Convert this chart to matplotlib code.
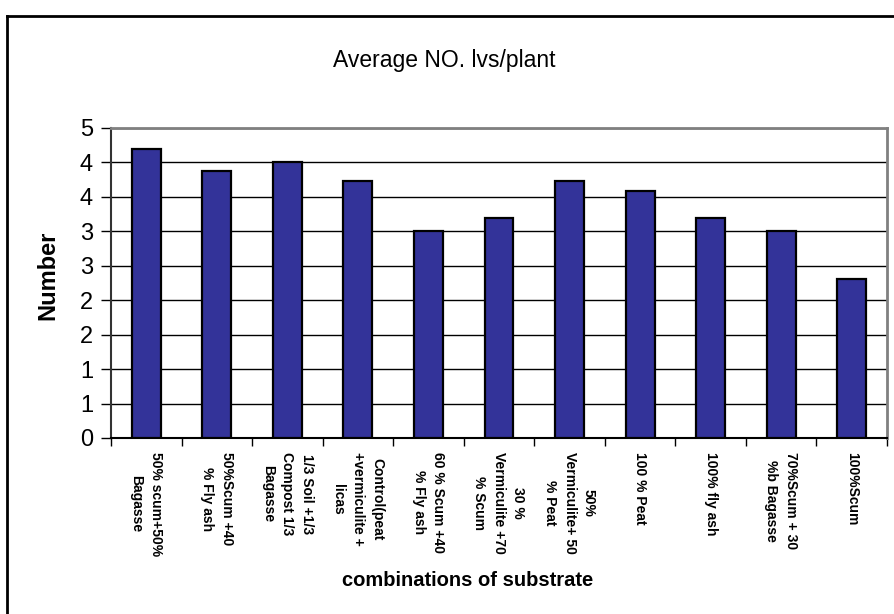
import matplotlib
matplotlib.use("Agg")
import matplotlib.pyplot as plt
from matplotlib.lines import Line2D
import numpy as np

plt.rcParams['font.family'] = ['Liberation Sans', 'DejaVu Sans']

# substrate combinations (x tick labels, written as in the chart)
categories = [
    "50% scum+50%\nBagasse",
    "50%Scum +40\n% Fly ash",
    "1/3 Soil +1/3\nCompost 1/3\nBagasse",
    "Control(peat\n+vermiculite +\nlicas",
    "60 % Scum +40\n% Fly ash",
    "30 %\nVermiculite +70\n% Scum",
    "50%\nVermiculite+ 50\n% Peat",
    "100 % Peat",
    "100% fly ash",
    "70%Scum + 30\n%b Bagasse",
    "100%Scum",
]
# average number of leaves per plant
avg_leaves = [4.2, 3.87, 4.0, 3.73, 3.0, 3.2, 3.73, 3.58, 3.2, 3.0, 2.31]

# y ticks every 0.5, shown with Excel's "0" number format
y_ticks = [0, 0.5, 1, 1.5, 2, 2.5, 3, 3.5, 4, 4.5]
y_tick_labels = ["0", "1", "1", "2", "2", "3", "3", "4", "4", "5"]

W, H = 895, 614
fig = plt.figure(figsize=(W / 100, H / 100), dpi=100)
ax = fig.add_axes([111 / W, 1 - 438 / H, (887 - 111) / W, (438 - 128) / H])

x = np.arange(len(categories))
ax.bar(x, avg_leaves, width=0.41, color="#333399", edgecolor="black",
       linewidth=1.6, zorder=3)

ax.set_xlim(-0.5, len(categories) - 0.5)
ax.set_ylim(0, 4.5)
ax.set_yticks(y_ticks)
ax.set_yticklabels(y_tick_labels, fontsize=17)
ax.yaxis.grid(True, color="black", linewidth=1.0, zorder=0)

# category labels sit under the bars, ticks between them
ax.set_xticks(np.arange(len(categories) + 1) - 0.5)
ax.set_xticklabels([])
ax.tick_params(axis="x", length=6, width=1, direction="out")
ax.tick_params(axis="y", length=7, width=1, direction="out", pad=6)
for xi, lab in zip(x, categories):
    ax.text(xi, -0.045, lab, transform=ax.get_xaxis_transform(),
            rotation=-90, ha="center", va="top", multialignment="center",
            fontsize=10, fontweight="bold", linespacing=1.5)

for side in ["top", "right"]:
    ax.spines[side].set_color("#808080")
    ax.spines[side].set_linewidth(2)
ax.spines["left"].set_color("#333333")
ax.spines["left"].set_linewidth(1.5)
ax.spines["bottom"].set_linewidth(1.5)

fig.text(444 / W, 1 - 61 / H, "Average NO. lvs/plant", fontsize=16.5,
         ha="center", va="center")
fig.text(48 / W, 1 - 275 / H, "Number", fontsize=17, fontweight="bold",
         rotation=90, ha="center", va="center")
fig.text(468 / W, 1 - 580 / H, "combinations of substrate", fontsize=14.5,
         fontweight="bold", ha="center", va="center")

# outer chart frame (only left and top edges show)
fig.add_artist(Line2D([7 / W, 7 / W], [0, 1 - 16 / H], color="black",
                      linewidth=2, transform=fig.transFigure))
fig.add_artist(Line2D([7 / W, 1], [1 - 16 / H, 1 - 16 / H], color="black",
                      linewidth=2, transform=fig.transFigure))

fig.savefig("out.png", dpi=100, facecolor="white")
